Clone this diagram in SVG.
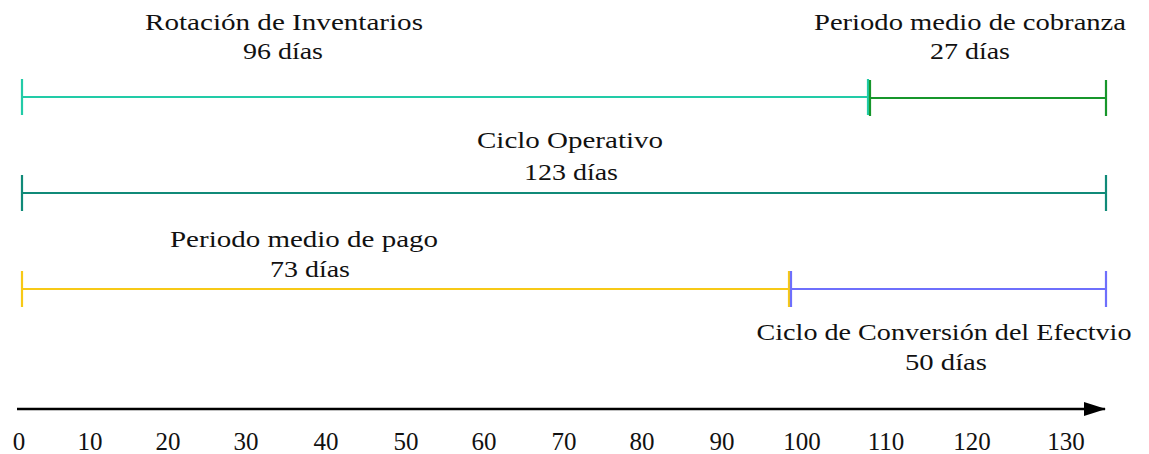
<svg xmlns="http://www.w3.org/2000/svg" width="1149" height="454" viewBox="0 0 1149 454">
<defs>
<style>
text{font-family:"Liberation Serif","Times New Roman",serif;font-size:24px;fill:#111;text-anchor:middle}
.num{font-size:25px}
.bar{stroke-width:2.2;fill:none}
.teal{stroke:#22cba7}
.green{stroke:#17962b}
.dteal{stroke:#108a78}
.yellow{stroke:#f7c916}
.blue{stroke:#6e6ffc}
.axis{stroke:#000;stroke-width:2.4;fill:none}
</style>
<marker id="arrow" viewBox="0 0 22 14" refX="21" refY="7" markerWidth="22" markerHeight="14" markerUnits="userSpaceOnUse" orient="auto">
<path d="M0,0 L22,7 L0,14 Z" fill="#000"/>
</marker>
</defs>
<rect width="1149" height="454" fill="#fff"/>
<g id="rotacion-inventarios">
<path class="bar teal" d="M22,97 H868 M22,79 V115 M868,79 V115"/>
<text x="284" y="30" textLength="278" lengthAdjust="spacingAndGlyphs">Rotación de Inventarios</text>
<text x="283" y="59" textLength="80" lengthAdjust="spacingAndGlyphs">96 días</text>
</g>
<g id="periodo-cobranza">
<path class="bar green" d="M870,98 H1106 M870,80 V116 M1106,80 V116"/>
<text x="970" y="30" textLength="312" lengthAdjust="spacingAndGlyphs">Periodo medio de cobranza</text>
<text x="970" y="59" textLength="80" lengthAdjust="spacingAndGlyphs">27 días</text>
</g>
<g id="ciclo-operativo">
<path class="bar dteal" d="M22,193 H1106 M22,175 V211 M1106,175 V211"/>
<text x="570" y="148" textLength="186" lengthAdjust="spacingAndGlyphs">Ciclo Operativo</text>
<text x="571" y="180" textLength="94" lengthAdjust="spacingAndGlyphs">123 días</text>
</g>
<g id="periodo-pago">
<path class="bar yellow" d="M22,289 H789 M22,271 V307 M789,271 V307"/>
<text x="304" y="247" textLength="268" lengthAdjust="spacingAndGlyphs">Periodo medio de pago</text>
<text x="310" y="277" textLength="80" lengthAdjust="spacingAndGlyphs">73 días</text>
</g>
<g id="ciclo-conversion">
<path class="bar blue" d="M791,289 H1106 M791,271 V307 M1106,271 V307"/>
<text x="944" y="340" textLength="375" lengthAdjust="spacingAndGlyphs">Ciclo de Conversión del Efectvio</text>
<text x="946" y="370" textLength="82" lengthAdjust="spacingAndGlyphs">50 días</text>
</g>
<g id="connectors">
<line class="axis" x1="17" y1="409" x2="1105" y2="409" marker-end="url(#arrow)"/>
</g>
<g id="axis-labels" class="num">
<text class="num" x="19" y="450">0</text>
<text class="num" x="90" y="450">10</text>
<text class="num" x="168" y="450">20</text>
<text class="num" x="246" y="450">30</text>
<text class="num" x="326" y="450">40</text>
<text class="num" x="406" y="450">50</text>
<text class="num" x="484" y="450">60</text>
<text class="num" x="564" y="450">70</text>
<text class="num" x="642" y="450">80</text>
<text class="num" x="722" y="450">90</text>
<text class="num" x="802" y="450">100</text>
<text class="num" x="886" y="450">110</text>
<text class="num" x="972" y="450">120</text>
<text class="num" x="1066" y="450">130</text>
</g>
</svg>
